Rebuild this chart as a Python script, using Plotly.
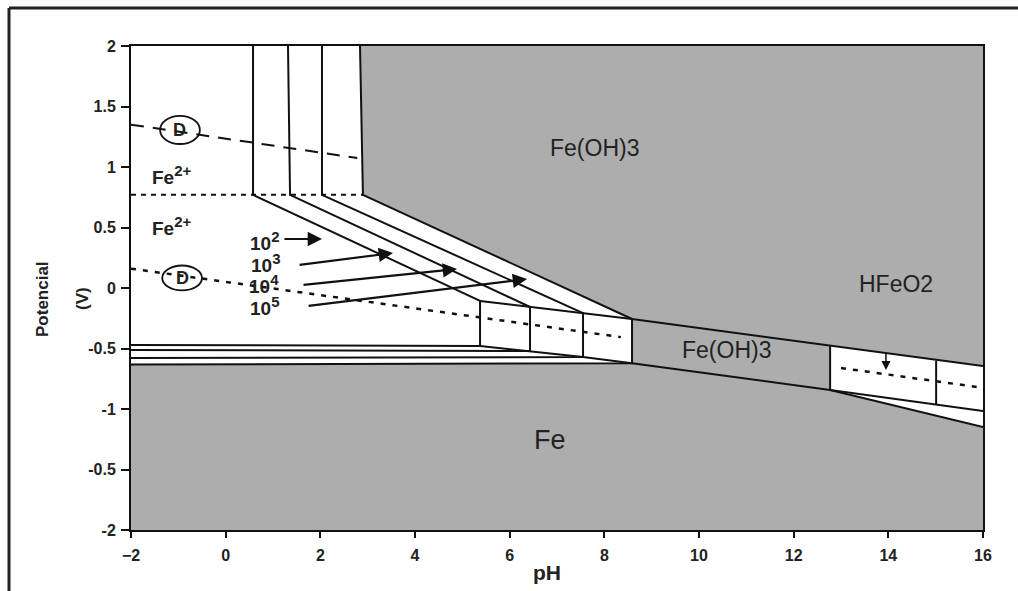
import plotly.graph_objects as go

# ---------------- data ----------------
ph_ticks = [-2, 0, 2, 4, 6, 8, 10, 12, 14, 16]
E_ticks = [2, 1.5, 1, 0.5, 0, -0.5, -1, -1.5, -2]
E_ticktext = ["2", "1.5", "1", "0.5", "0", "-0.5", "-1", "-0.5", "-2"]

# concentration boundary lines (10^2 .. 10^5)
conc_ph_top = [0.578, 1.317, 2.035, 2.838]
conc_ph_knee = [0.578, 1.36, 2.035, 2.90]
knee_E = 0.77
conc_ph_end = [5.374, 6.43, 7.55, 8.585]
conc_E_end = [-0.107, -0.157, -0.207, -0.256]
conc_E_foot = [-0.479, -0.521, -0.570, -0.622]
conc_E_left = [-0.471, -0.512, -0.579, -0.632]

# right-hand boundaries
right_ph = [8.585, 12.77, 16]
right_top_E = [-0.256, -0.478, -0.645]
right_bot_E = [-0.622, -0.843, -1.149]
right_alt_E = [-0.843, -1.017]
split_ph = 15.01
split_E = [-0.601, -0.965]

# water lines and Fe3+/Fe2+ line
o2_ph = [-2, 2.78]
o2_E = [1.35, 1.074]
h2_ph_a = [-2, 8.35]
h2_E_a = [0.16, -0.406]
h2_ph_b = [13.0, 16]
h2_E_b = [-0.661, -0.825]
fe3_ph = [-2, 2.90]
fe3_E = [0.77, 0.77]

# labels
region_labels = ["Fe(OH)3", "HFeO2", "Fe(OH)3", "Fe"]
region_ph = [7.8, 14.16, 10.59, 6.85]
region_E = [1.157, 0.033, -0.512, -1.256]
region_size = [23, 23, 23, 27]

ion_labels = ["Fe", "Fe"]
ion_sup = "2+"
ion_ph = [-1.13, -1.13]
ion_E = [0.93, 0.515]

conc_base = "10"
conc_sup = ["2", "3", "4", "5"]
conc_lab_ph = [0.81, 0.85, 0.81, 0.83]
conc_lab_E = [0.39, 0.207, 0.033, -0.149]
arrow_tail_ph = [1.21, 1.53, 1.613, 1.72]
arrow_tail_E = [0.405, 0.19, 0.025, -0.149]
arrow_tip_ph = [2.035, 3.535, 4.888, 6.367]
arrow_tip_E = [0.405, 0.289, 0.157, 0.074]

down_arrow_ph = 13.95
down_arrow_E = [-0.529, -0.678]

ellipse_ph = [-0.965, -0.92]
ellipse_E = [1.306, 0.083]
ellipse_hw = 0.42
ellipse_hh = [0.116, 0.103]

GRAY = "#adadad"
LINE = "#111111"
TXT = "#222222"
FONT = "Liberation Sans"

fig = go.Figure()


def poly(xs, ys):
    fig.add_trace(go.Scatter(x=xs, y=ys, mode="lines", fill="toself",
                             fillcolor=GRAY, line=dict(color=GRAY, width=0),
                             hoverinfo="skip", showlegend=False))


def line(xs, ys, width=2, dash="solid", color=LINE):
    fig.add_trace(go.Scatter(x=xs, y=ys, mode="lines",
                             line=dict(color=color, width=width, dash=dash),
                             hoverinfo="skip", showlegend=False))


# gray regions
poly([conc_ph_top[3], 16, 16, right_ph[0], conc_ph_knee[3]],
     [2, 2, right_top_E[2], right_top_E[0], knee_E])
poly([right_ph[0], right_ph[1], right_ph[1], right_ph[0]],
     [right_top_E[0], right_top_E[1], right_bot_E[1], right_bot_E[0]])
poly([-2, conc_ph_end[3], right_ph[1], right_ph[2], 16, -2],
     [conc_E_left[3], conc_E_foot[3], right_bot_E[1], right_bot_E[2], -2, -2])

# concentration lines
for i in range(4):
    line([conc_ph_top[i], conc_ph_knee[i], conc_ph_end[i], conc_ph_end[i], -2],
         [2, knee_E, conc_E_end[i], conc_E_foot[i], conc_E_left[i]])
line(conc_ph_end, conc_E_end)
line(conc_ph_end, conc_E_foot)

# right boundaries
line(right_ph, right_top_E)
line(right_ph, right_bot_E)
line([right_ph[1], right_ph[2]], right_alt_E)
line([right_ph[1], right_ph[1]], [right_top_E[1], right_bot_E[1]])
line([split_ph, split_ph], split_E)

# dashed / dotted lines
line(o2_ph, o2_E, width=2, dash="13px,9px")
line(h2_ph_a, h2_E_a, width=2.5, dash="5px,7px")
line(h2_ph_b, h2_E_b, width=2.5, dash="5px,7px")
line(fe3_ph, fe3_E, width=2, dash="5px,5px")


def sup_text(base, s, size):
    return ("<b>" + base + "<sup><span style='font-size:%dpx'>" % size + s +
            "</span></sup></b>")


annotations = []
for t, x, y, s in zip(region_labels, region_ph, region_E, region_size):
    annotations.append(dict(x=x, y=y, text=t, showarrow=False,
                            font=dict(family=FONT, size=s, color=TXT)))
for t, x, y in zip(ion_labels, ion_ph, ion_E):
    annotations.append(dict(x=x, y=y, text=sup_text(t, ion_sup, 15), showarrow=False,
                            font=dict(family=FONT, size=19, color=TXT)))
for s, x, y in zip(conc_sup, conc_lab_ph, conc_lab_E):
    annotations.append(dict(x=x, y=y, text=sup_text(conc_base, s, 15), showarrow=False,
                            font=dict(family=FONT, size=19, color=TXT)))
for tx, ty, hx, hy in zip(arrow_tail_ph, arrow_tail_E, arrow_tip_ph, arrow_tip_E):
    annotations.append(dict(x=hx, y=hy, ax=tx, ay=ty, axref="x", ayref="y",
                            xref="x", yref="y", text="", showarrow=True,
                            arrowhead=2, arrowsize=1.3, arrowwidth=2.2,
                            arrowcolor=LINE))
annotations.append(dict(x=down_arrow_ph, y=down_arrow_E[1], ax=down_arrow_ph,
                        ay=down_arrow_E[0], axref="x", ayref="y", text="",
                        showarrow=True, arrowhead=2, arrowsize=1.2,
                        arrowwidth=1.5, arrowcolor=LINE))
for x, y in zip(ellipse_ph, ellipse_E):
    annotations.append(dict(x=x, y=y, text="<b>D</b>", showarrow=False,
                            font=dict(family=FONT, size=18, color=TXT)))

# axis titles (pixel-placed, converted to paper coords below)
titles = [
    dict(x=547, y=572, text="<b>pH</b>", textangle=0, size=21),
    dict(x=42, y=299, text="<b>Potencial</b>", textangle=-90, size=17),
    dict(x=82, y=299, text="<b>(V)</b>", textangle=-90, size=17),
]
L, R, T, B, W, H = 131, 35, 46, 61, 1018, 591
pw, phh = W - L - R, H - T - B
for t in titles:
    annotations.append(dict(x=(t["x"] - L) / pw, y=(H - B - t["y"]) / phh,
                            xref="paper", yref="paper", xanchor="center",
                            yanchor="middle", text=t["text"], textangle=t["textangle"],
                            showarrow=False,
                            font=dict(family=FONT, size=t["size"], color=TXT)))

shapes = []
for x, y, hh in zip(ellipse_ph, ellipse_E, ellipse_hh):
    shapes.append(dict(type="circle", xref="x", yref="y",
                       x0=x - ellipse_hw, x1=x + ellipse_hw, y0=y - hh, y1=y + hh,
                       line=dict(color=LINE, width=1.8)))
# outer frame (top and left)
shapes.append(dict(type="line", xref="paper", yref="paper",
                   x0=(9 - L) / pw, x1=(W - L) / pw, y0=(H - B - 8) / phh, y1=(H - B - 8) / phh,
                   line=dict(color="#222", width=3)))
shapes.append(dict(type="line", xref="paper", yref="paper",
                   x0=(9 - L) / pw, x1=(9 - L) / pw, y0=(H - B - 8) / phh, y1=(H - B - H) / phh,
                   line=dict(color="#222", width=3)))

fig.update_layout(
    width=W, height=H,
    margin=dict(l=L, r=R, t=T, b=B),
    paper_bgcolor="white", plot_bgcolor="white",
    showlegend=False,
    annotations=annotations, shapes=shapes,
    xaxis=dict(range=[-2, 16], tickvals=ph_ticks, showgrid=False, zeroline=False,
               showline=True, mirror=True, linecolor=LINE, linewidth=2,
               ticks="outside", ticklen=6, tickwidth=2, tickcolor=LINE,
               ticklabelstandoff=4,
               tickfont=dict(family=FONT, size=16, color=TXT, weight="bold")),
    yaxis=dict(range=[-2, 2], tickvals=E_ticks, ticktext=E_ticktext, showgrid=False,
               zeroline=False, showline=True, mirror=True, linecolor=LINE, linewidth=2,
               ticks="outside", ticklen=8, tickwidth=2, tickcolor=LINE,
               ticklabelstandoff=2,
               tickfont=dict(family=FONT, size=16, color=TXT, weight="bold")),
)

fig.write_html("out.html")
